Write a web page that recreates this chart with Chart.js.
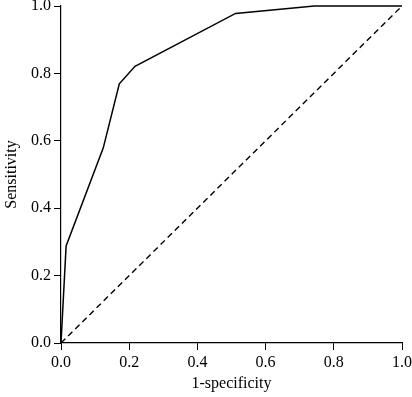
<!DOCTYPE html>
<html>
<head>
<meta charset="utf-8">
<script src="https://cdn.jsdelivr.net/npm/chart.js@4"></script>
<style>
  html, body { margin: 0; padding: 0; background: #fff; }
  #wrap { width: 412px; height: 397px; }
</style>
</head>
<body>
<div id="wrap"><canvas id="c" width="412" height="397"></canvas></div>
<script>
const fpr = [0, 0.015, 0.124, 0.171, 0.217, 0.512, 0.743, 1.0];
const tpr = [0, 0.288, 0.579, 0.769, 0.821, 0.978, 1.0, 1.0];
const diagX = [0, 1];
const diagY = [0, 1];
const xTitle = '1-specificity';
const yTitle = 'Sensitivity';

const FONT = "'Liberation Serif', 'DejaVu Serif', serif";

new Chart(document.getElementById('c'), {
  type: 'line',
  data: {
    datasets: [
      {
        data: fpr.map((x, i) => ({ x: x, y: tpr[i] })),
        borderColor: '#000',
        borderWidth: 1.5,
        pointRadius: 0,
        tension: 0,
        fill: false,
        clip: false
      },
      {
        data: diagX.map((x, i) => ({ x: x, y: diagY[i] })),
        borderColor: '#000',
        borderWidth: 1.4,
        borderDash: [6, 4],
        pointRadius: 0,
        tension: 0,
        fill: false,
        clip: false
      }
    ]
  },
  options: {
    responsive: false,
    animation: false,
    devicePixelRatio: 1,
    layout: { padding: { left: 0, top: 6, right: 10, bottom: 0 } },
    plugins: { legend: { display: false }, tooltip: { enabled: false } },
    scales: {
      x: {
        type: 'linear',
        min: 0, max: 1,
        afterFit: s => { s.height = 54; s.paddingLeft = 0; s.paddingRight = 0; },
        ticks: {
          stepSize: 0.2,
          color: '#000',
          font: { family: FONT, size: 16 },
          padding: 3,
          maxRotation: 0,
          callback: v => v.toFixed(1)
        },
        grid: { display: true, drawOnChartArea: false, drawTicks: true, tickLength: 7, color: '#000', lineWidth: 1 },
        border: { display: true, color: '#000', width: 1.2 },
        title: { display: true, text: xTitle, color: '#000', font: { family: FONT, size: 16 }, padding: { top: 4 } }
      },
      y: {
        type: 'linear',
        min: 0, max: 1,
        afterFit: s => { s.width = 61; s.paddingTop = 0; s.paddingBottom = 0; },
        ticks: {
          stepSize: 0.2,
          color: '#000',
          font: { family: FONT, size: 16 },
          padding: 3,
          callback: v => v.toFixed(1)
        },
        grid: { display: true, drawOnChartArea: false, drawTicks: true, tickLength: 7, color: '#000', lineWidth: 1 },
        border: { display: true, color: '#000', width: 1.2 },
        title: { display: true, text: yTitle, color: '#000', font: { family: FONT, size: 16 }, padding: { top: 2, bottom: 0 } }
      }
    }
  }
});
</script>
</body>
</html>
